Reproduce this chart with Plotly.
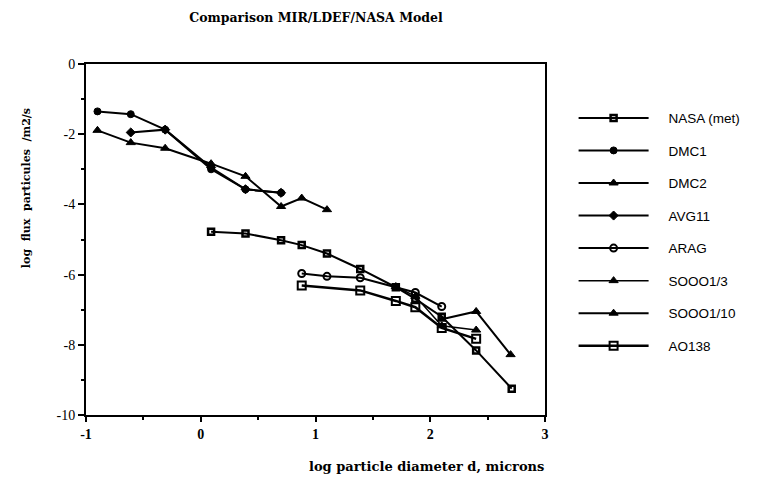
import plotly.graph_objects as go

# ---- data ----
nasa_x = [0.09, 0.39, 0.70, 0.88, 1.10, 1.39, 1.70, 1.87, 2.10, 2.40, 2.71]
nasa_y = [-4.78, -4.83, -5.02, -5.16, -5.40, -5.84, -6.36, -6.69, -7.20, -8.16, -9.25]
dmc1_x = [-0.90, -0.61, -0.31, 0.09, 0.39, 0.70]
dmc1_y = [-1.35, -1.43, -1.87, -3.00, -3.57, -3.67]
dmc2_x = [-0.90, -0.61, -0.31, 0.09, 0.39, 0.70, 0.88, 1.10]
dmc2_y = [-1.89, -2.24, -2.40, -2.84, -3.20, -4.06, -3.82, -4.15]
avg11_x = [-0.61, -0.31, 0.09, 0.39, 0.70]
avg11_y = [-1.95, -1.87, -2.95, -3.57, -3.67]
arag_x = [0.88, 1.10, 1.39, 1.87, 2.10]
arag_y = [-5.97, -6.05, -6.09, -6.51, -6.91]
s13_x = [1.70, 1.87, 2.10, 2.40]
s13_y = [-6.34, -6.62, -7.46, -7.58]
s110_x = [2.10, 2.40, 2.70]
s110_y = [-7.27, -7.05, -8.28]
ao_x = [0.88, 1.39, 1.70, 1.87, 2.10, 2.40]
ao_y = [-6.31, -6.45, -6.75, -6.93, -7.52, -7.83]

x_ticks = [-1, 0, 1, 2, 3]
y_ticks = [0, -2, -4, -6, -8, -10]

series = [
    ("NASA (met)", nasa_x, nasa_y, "square-open", 2.0, 6, 2.5),
    ("DMC1", dmc1_x, dmc1_y, "circle", 2.0, 7, 1.0),
    ("DMC2", dmc2_x, dmc2_y, "triangle-up", 2.0, 8, 1.0),
    ("AVG11", avg11_x, avg11_y, "diamond", 2.0, 7, 1.0),
    ("ARAG", arag_x, arag_y, "circle-open", 2.0, 7, 2.0),
    ("SOOO1/3", s13_x, s13_y, "triangle-up", 1.5, 8, 1.0),
    ("SOOO1/10", s110_x, s110_y, "triangle-up", 2.0, 8, 1.0),
    ("AO138", ao_x, ao_y, "square-open", 2.5, 8, 2.0),
]

pad = "\u00a0" * 4
fig = go.Figure()
for i, (name, xs, ys, sym, lw, ms, mlw) in enumerate(series):
    fig.add_trace(go.Scatter(
        x=xs, y=ys, name=pad + name, mode="lines+markers",
        line=dict(color="black", width=lw),
        marker=dict(symbol=sym, size=ms, color="black",
                    line=dict(color="black", width=mlw)),
        legendgroup=f"g{i}",
    ))

serif = "Liberation Serif"
wide = "DejaVu Serif"
fig.update_layout(
    width=757, height=479,
    margin=dict(l=86, r=211, t=64, b=64),
    paper_bgcolor="white", plot_bgcolor="white",
    title=dict(text="<b>Comparison MIR/LDEF/NASA Model</b>",
               x=(86 + 546) / 2 / 757, xanchor="center", y=1 - 18 / 479, yanchor="middle",
               font=dict(family=wide, size=12.5, color="black")),
    showlegend=True,
    legend=dict(x=1.06, y=0.89, xanchor="left", yanchor="top",
                font=dict(family="Liberation Sans", size=13.5, color="black"),
                traceorder="grouped", tracegroupgap=12, itemwidth=70,
                bgcolor="rgba(0,0,0,0)"),
    xaxis=dict(range=[-1, 3], tickvals=x_ticks, ticktext=[f"<b>{v}</b>" for v in x_ticks],
               showgrid=False, zeroline=False, showline=True, linecolor="black", linewidth=2,
               mirror=True, ticks="outside", ticklen=5, tickwidth=2, tickcolor="black",
               minor=dict(dtick=0.5, ticks="outside", ticklen=3, tickwidth=2, tickcolor="black"),
               tickfont=dict(family=serif, size=14, color="black")),
    yaxis=dict(range=[-10, 0], tickvals=y_ticks, ticktext=[str(v) for v in y_ticks],
               showgrid=False, zeroline=False, showline=True, linecolor="black", linewidth=2,
               mirror=True, ticks="outside", ticklen=6, tickwidth=2, tickcolor="black",
               minor=dict(dtick=1, ticks="outside", ticklen=3, tickwidth=2, tickcolor="black"),
               tickfont=dict(family=serif, size=14, color="black")),
    annotations=[
        dict(text="<b>log particle diameter d, microns</b>", xref="paper", yref="paper",
             x=(427 - 86) / 460, y=-(466 - 415) / 351, xanchor="center", yanchor="middle",
             showarrow=False, font=dict(family=wide, size=13, color="black")),
        dict(text="<b>log  flux  particules  /m2/s</b>", xref="paper", yref="paper",
             x=-(86 - 26) / 460, y=(415 - 188) / 351, xanchor="center", yanchor="middle",
             textangle=-90, showarrow=False, font=dict(family=wide, size=11, color="black")),
    ],
)

fig.write_html("out.html", config={"displayModeBar": False},
               post_script="document.body.style.margin='0';")
